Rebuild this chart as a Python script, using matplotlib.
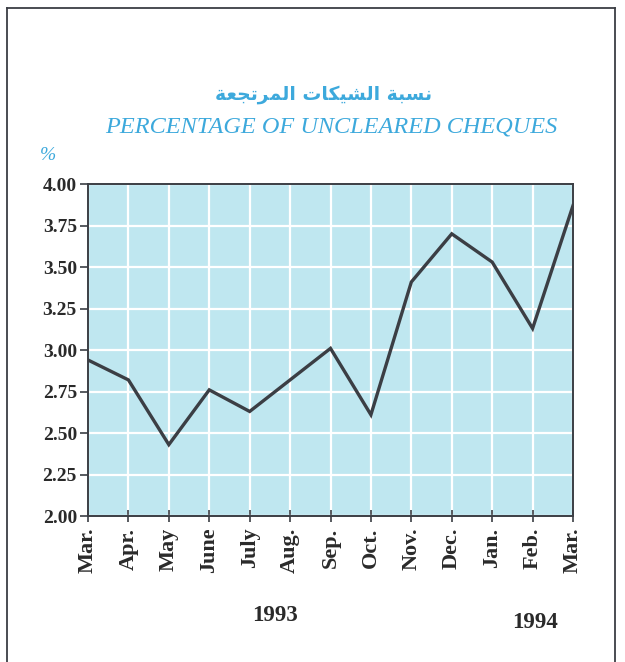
import matplotlib.pyplot as plt
from matplotlib.lines import Line2D

months = ["Mar.", "Apr.", "May", "June", "July", "Aug.", "Sep.",
          "Oct.", "Nov.", "Dec.", "Jan.", "Feb.", "Mar."]
pct = [2.94, 2.82, 2.43, 2.76, 2.63, 2.82, 3.01,
       2.61, 3.41, 3.70, 3.53, 3.13, 3.87]
y_ticks = [2.00, 2.25, 2.50, 2.75, 3.00, 3.25, 3.50, 3.75, 4.00]
years = ["1993", "1994"]

CYAN = "#3da9dc"
DARK = "#3b3e44"
TEXT = "#2a2a2a"
FILL = "#bfe7f0"

# Arabic title in presentation forms, stored logically then reversed for
# left-to-right drawing (matplotlib does no bidi/shaping).
ar_logical = ("\uFEE7\uFEB4\uFE92\uFE94 "
              "\uFE8D\uFEDF\uFEB8\uFEF4\uFEDC\uFE8E\uFE95 "
              "\uFE8D\uFEDF\uFEE4\uFEAE\uFE97\uFEA0\uFECC\uFE94")
ar_title = ar_logical[::-1]

plt.rcParams["font.family"] = ["Liberation Serif", "DejaVu Serif"]

fig = plt.figure(figsize=(6.25, 6.62), dpi=100)
ax = fig.add_axes([0.1408, 0.2205, 0.776, 0.5015])

x = list(range(len(months)))
ax.set_facecolor(FILL)
ax.plot(x, pct, color=DARK, lw=2.4, solid_joinstyle="miter", zorder=3)

ax.set_xlim(0, len(months) - 1)
ax.set_ylim(2.0, 4.0)
ax.set_xticks(x)
ax.set_xticklabels(months, rotation=90, fontsize=16, fontweight="bold", color=TEXT)
ax.set_yticks(y_ticks)
ax.set_yticklabels([f"{v:.2f}" for v in y_ticks], fontsize=14, fontweight="bold", color=TEXT)
ax.grid(True, color="white", lw=1.6, zorder=1)
ax.set_axisbelow(True)
ax.tick_params(axis="x", direction="inout", length=9, width=1.2, color=DARK, pad=4)
ax.tick_params(axis="y", direction="out", length=6, width=1.2, color=DARK, pad=2)
for s in ax.spines.values():
    s.set_color(DARK)
    s.set_linewidth(1.4)

fig.text(0.518, 0.857, ar_title, family=["DejaVu Sans"], fontsize=13.5,
         color=CYAN, ha="center", va="center", fontweight="bold")
fig.text(0.53, 0.808, "PERCENTAGE OF UNCLEARED CHEQUES", fontsize=17.5,
         style="italic", color=CYAN, ha="center", va="center")
fig.text(0.077, 0.765, "%", fontsize=14, style="italic", color=CYAN,
         ha="center", va="center")
fig.text(0.44, 0.07, years[0], fontsize=16.5, fontweight="bold",
         color=TEXT, ha="center", va="center")
fig.text(0.856, 0.06, years[1], fontsize=16.5, fontweight="bold",
         color=TEXT, ha="center", va="center")

# outer frame (left, top, right)
for xs, ys in [([0.011, 0.011], [0.0, 0.988]),
               ([0.011, 0.984], [0.988, 0.988]),
               ([0.984, 0.984], [0.988, 0.0])]:
    fig.add_artist(Line2D(xs, ys, transform=fig.transFigure, color=DARK, lw=1.3))

fig.savefig("out.png", dpi=100)
